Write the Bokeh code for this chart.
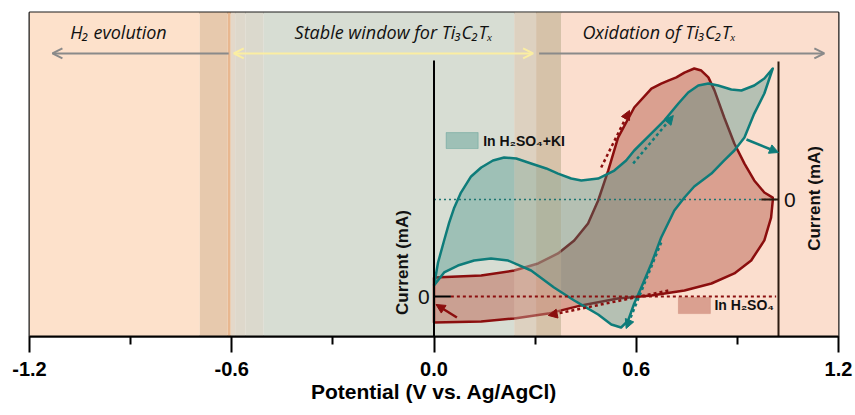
import math
from bokeh.plotting import figure
from bokeh.models import Range1d, Arrow, NormalHead, OpenHead, FixedTicker, CustomJSTickFormatter
from bokeh.core.properties import value
from bokeh.embed import file_html
from bokeh.resources import INLINE

# ---------------- data ----------------
x_ticks = [-1.2, -0.6, 0.0, 0.6, 1.2]
x_minor = [-0.9, -0.3, 0.3, 0.9]

# CV in H2SO4 (left current axis, arbitrary mA units)
red_fwd_v = [0.000, 0.140, 0.238, 0.309, 0.368, 0.416, 0.457, 0.487, 0.517, 0.546, 0.594, 0.645,
             0.674, 0.695, 0.719, 0.743, 0.772, 0.793, 0.814, 0.832, 0.861, 0.891, 0.921, 0.950,
             0.980, 1.005]
red_fwd_i = [0.083, 0.092, 0.114, 0.145, 0.189, 0.246, 0.320, 0.421, 0.553, 0.697, 0.829, 0.912,
             0.934, 0.947, 0.961, 0.982, 1.000, 0.991, 0.961, 0.904, 0.785, 0.671, 0.583, 0.509,
             0.456, 0.434]
red_rev_v = [1.005, 1.000, 0.980, 0.941, 0.891, 0.823, 0.743, 0.645, 0.546, 0.437, 0.339, 0.238,
             0.140, 0.000]
red_rev_i = [0.421, 0.346, 0.246, 0.158, 0.101, 0.057, 0.026, 0.004, -0.009, -0.039, -0.075, -0.096,
             -0.110, -0.114]

# CV in H2SO4 + KI (right current axis, arbitrary mA units)
teal_fwd_v = [0.000, 0.012, 0.030, 0.045, 0.059, 0.080, 0.110, 0.140, 0.175, 0.208, 0.244, 0.288,
              0.333, 0.368, 0.407, 0.437, 0.487, 0.535, 0.570, 0.594, 0.645, 0.683, 0.725, 0.754,
              0.784, 0.814, 0.843, 0.882, 0.912, 0.950, 0.980, 1.005]
teal_fwd_i = [-0.656, -0.481, -0.313, -0.176, -0.069, 0.053, 0.176, 0.244, 0.298, 0.321, 0.313, 0.275,
              0.237, 0.198, 0.160, 0.145, 0.160, 0.221, 0.298, 0.374, 0.504, 0.603, 0.733, 0.817,
              0.870, 0.885, 0.870, 0.840, 0.832, 0.870, 0.924, 1.000]
teal_rev_v = [1.005, 0.980, 0.950, 0.921, 0.891, 0.861, 0.823, 0.772, 0.743, 0.713, 0.674, 0.645,
              0.615, 0.594, 0.576, 0.555, 0.526, 0.487, 0.451, 0.416, 0.356, 0.288, 0.220, 0.169,
              0.119, 0.071, 0.030, 0.000]
teal_rev_i = [1.000, 0.809, 0.656, 0.473, 0.374, 0.298, 0.198, 0.099, 0.015, -0.084, -0.290, -0.489,
              -0.672, -0.794, -0.924, -0.977, -0.954, -0.878, -0.824, -0.771, -0.672, -0.542, -0.466, -0.450,
              -0.466, -0.504, -0.557, -0.656]

# potential regions (background bands)
band_left = [-1.2, -0.695, -0.612, -0.603, -0.59, -0.56, -0.505, 0.238, 0.303, 0.377]
band_right = [-0.695, -0.612, -0.603, -0.59, -0.56, -0.505, 0.238, 0.303, 0.377, 1.2]
band_colors = ["#fde1cb", "#e7c9ad", "#e8b78f", "#e4d8c9", "#ded8cb", "#dbd9cd", "#d7ddd3",
               "#ddd1c0", "#d6c2aa", "#fbdece"]

region_labels = ["H\u2082 evolution", "Stable window  for Ti\u2083C\u2082T\u2093", "Oxidation of Ti\u2083C\u2082T\u2093"]
region_label_x = [-0.936, -0.113, 0.668]

# scan-direction arrows: (x_start, y_start, x_end, y_end)
red_arrows_dotted = [(0.496, 0.566, 0.580, 0.816), (0.695, 0.026, 0.339, -0.083)]
red_arrows_solid = [(0.068, -0.092, 0.006, -0.035)]
teal_arrows_dotted = [(0.591, 0.275, 0.710, 0.641), (0.674, -0.328, 0.570, -0.985)]
teal_arrows_solid = [(0.927, 0.458, 1.022, 0.359)]

RED = "#8b0e0e"
TEAL = "#0e7c7a"
FONT = "Liberation Sans"

# ---------------- figure ----------------
p = figure(width=855, height=415, x_range=Range1d(-1.2, 1.2), y_range=Range1d(-0.1754, 1.2456),
           output_backend="svg", toolbar_location=None, y_axis_location=None,
           min_border_left=29, min_border_right=17, min_border_top=12, min_border_bottom=79)
p.extra_y_ranges = {"teal": Range1d(-1.0458, 1.4275)}
p.grid.visible = False
p.background_fill_color = "white"
p.outline_line_color = "#1a1a1a"
p.outline_line_width = 2

# bands
p.quad(left=band_left, right=band_right, bottom=-5, top=5, fill_color=band_colors, line_color=None)

# red CV fill and line
rx = red_fwd_v + red_rev_v
ry = red_fwd_i + red_rev_i
p.patch(rx, ry, fill_color="#c06e5c", fill_alpha=0.55, line_color=None)
p.line(rx + [rx[0]], ry + [ry[0]], line_color=RED, line_width=2.5, line_join="round")

# teal CV fill
tx = teal_fwd_v + teal_rev_v
ty = teal_fwd_i + teal_rev_i
p.patch(tx, ty, fill_color="#338980", fill_alpha=0.35, line_color=None, y_range_name="teal")

# transition-band tint over curves
p.quad(left=band_left[7:9], right=band_right[7:9], bottom=-5, top=5,
       fill_color=band_colors[7:9], fill_alpha=0.35, line_color=None)

p.line(tx + [tx[0]], ty + [ty[0]], line_color=TEAL, line_width=2.5, line_join="round", y_range_name="teal")

# zero lines
p.line([0.0, 1.022], [0, 0], line_color="#1d7571", line_width=1.5, line_dash="2 3", y_range_name="teal")
p.line([0.05, 1.015], [0, 0], line_color=RED, line_width=2, line_dash="3 3")
p.line([0.0, 0.05], [0, 0], line_color="black", line_width=2)
p.line([0.971, 1.022], [0, 0], line_color="#2b1a10", line_width=2, y_range_name="teal")

# inner current axes
p.line([0.0, 0.0], [-0.3, 1.035], line_color="black", line_width=2)
p.line([1.022, 1.022], [-0.3, 1.031], line_color="#2b1a10", line_width=2)

# legends
p.quad(left=[0.036], right=[0.131], bottom=[0.649], top=[0.719], fill_color="#338980", fill_alpha=0.35,
       line_color="#338980", line_alpha=0.3)
p.text(x=[0.146], y=[0.684], text=["In H\u2082SO\u2084+KI"], text_font=value(FONT),
       text_font_style="bold", text_font_size="14px", text_color="#111111",
       text_align="left", text_baseline="middle")
p.quad(left=[0.725], right=[0.820], bottom=[-0.075], top=[-0.004], fill_color="#c06e5c", fill_alpha=0.55,
       line_color="#c06e5c", line_alpha=0.3)
p.text(x=[0.832], y=[-0.039], text=["In H\u2082SO\u2084"], text_font=value(FONT),
       text_font_style="bold", text_font_size="14px", text_color="#111111",
       text_align="left", text_baseline="middle")

# axis texts inside
p.text(x=[-0.03], y=[0.0], text=["0"], text_font=value(FONT), text_font_size="21px",
       text_color="#111111", text_align="center", text_baseline="middle")
p.text(x=[1.056], y=[0.0], text=["0"], text_font=value(FONT), text_font_size="21px",
       text_color="#111111", text_align="center", text_baseline="middle", y_range_name="teal")
p.text(x=[-0.092], y=[0.149], text=["Current (mA)"], text_font=value(FONT),
       text_font_style="bold", text_font_size="17px", text_color="#111111", angle=math.pi / 2,
       text_align="center", text_baseline="middle")
p.text(x=[1.129], y=[0.008], text=["Current (mA)"], text_font=value(FONT),
       text_font_style="bold", text_font_size="17px", text_color="#111111", angle=math.pi / 2,
       text_align="center", text_baseline="middle", y_range_name="teal")

# region labels and arrows
p.text(x=region_label_x, y=[1.158] * 3, text=region_labels, text_font=value("Open Sans"),
       text_font_style="italic", text_font_size="18px", text_color="#111111",
       text_align="center", text_baseline="middle")
p.add_layout(Arrow(x_start=-0.609, y_start=1.066, x_end=-1.132, y_end=1.066, line_color="#8a8a8a",
                   line_width=2, end=OpenHead(size=10, line_color="#8a8a8a", line_width=2)))
p.add_layout(Arrow(x_start=-0.594, y_start=1.066, x_end=0.294, y_end=1.066, line_color="#fbeea2",
                   line_width=2, start=OpenHead(size=10, line_color="#fbeea2", line_width=2),
                   end=OpenHead(size=10, line_color="#fbeea2", line_width=2)))
p.add_layout(Arrow(x_start=0.312, y_start=1.066, x_end=1.158, y_end=1.066, line_color="#8a8a8a",
                   line_width=2, end=OpenHead(size=10, line_color="#8a8a8a", line_width=2)))

for (x0, y0, x1, y1) in red_arrows_dotted:
    p.add_layout(Arrow(x_start=x0, y_start=y0, x_end=x1, y_end=y1, line_color=RED, line_width=2.5,
                       line_dash="3 3", end=NormalHead(size=9, fill_color=RED, line_color=RED)))
for (x0, y0, x1, y1) in red_arrows_solid:
    p.add_layout(Arrow(x_start=x0, y_start=y0, x_end=x1, y_end=y1, line_color=RED, line_width=2.5,
                       end=NormalHead(size=9, fill_color=RED, line_color=RED)))
for (x0, y0, x1, y1) in teal_arrows_dotted:
    p.add_layout(Arrow(x_start=x0, y_start=y0, x_end=x1, y_end=y1, line_color=TEAL, line_width=2.5,
                       line_dash="3 3", y_range_name="teal",
                       end=NormalHead(size=9, fill_color=TEAL, line_color=TEAL)))
for (x0, y0, x1, y1) in teal_arrows_solid:
    p.add_layout(Arrow(x_start=x0, y_start=y0, x_end=x1, y_end=y1, line_color=TEAL, line_width=2.5,
                       y_range_name="teal", end=NormalHead(size=9, fill_color=TEAL, line_color=TEAL)))

# bottom axis
ax = p.xaxis[0]
ax.ticker = FixedTicker(ticks=x_ticks, minor_ticks=x_minor)
ax.formatter = CustomJSTickFormatter(code="return tick.toFixed(1);")
ax.axis_line_color = "black"
ax.axis_line_width = 2
ax.major_tick_line_color = "black"
ax.major_tick_line_width = 2
ax.major_tick_out = 16
ax.major_tick_in = 0
ax.minor_tick_line_color = "black"
ax.minor_tick_line_width = 2
ax.minor_tick_out = 8
ax.minor_tick_in = 0
ax.major_label_standoff = 9
ax.major_label_text_font = FONT
ax.major_label_text_font_style = "bold"
ax.major_label_text_font_size = "20px"
ax.major_label_text_color = "black"
ax.axis_label = "Potential (V vs. Ag/AgCl)"
ax.axis_label_text_font = FONT
ax.axis_label_text_font_style = "bold"
ax.axis_label_text_font_size = "21px"
ax.axis_label_text_color = "black"
ax.axis_label_standoff = 1

open("out.html", "w").write(file_html(p, INLINE))
